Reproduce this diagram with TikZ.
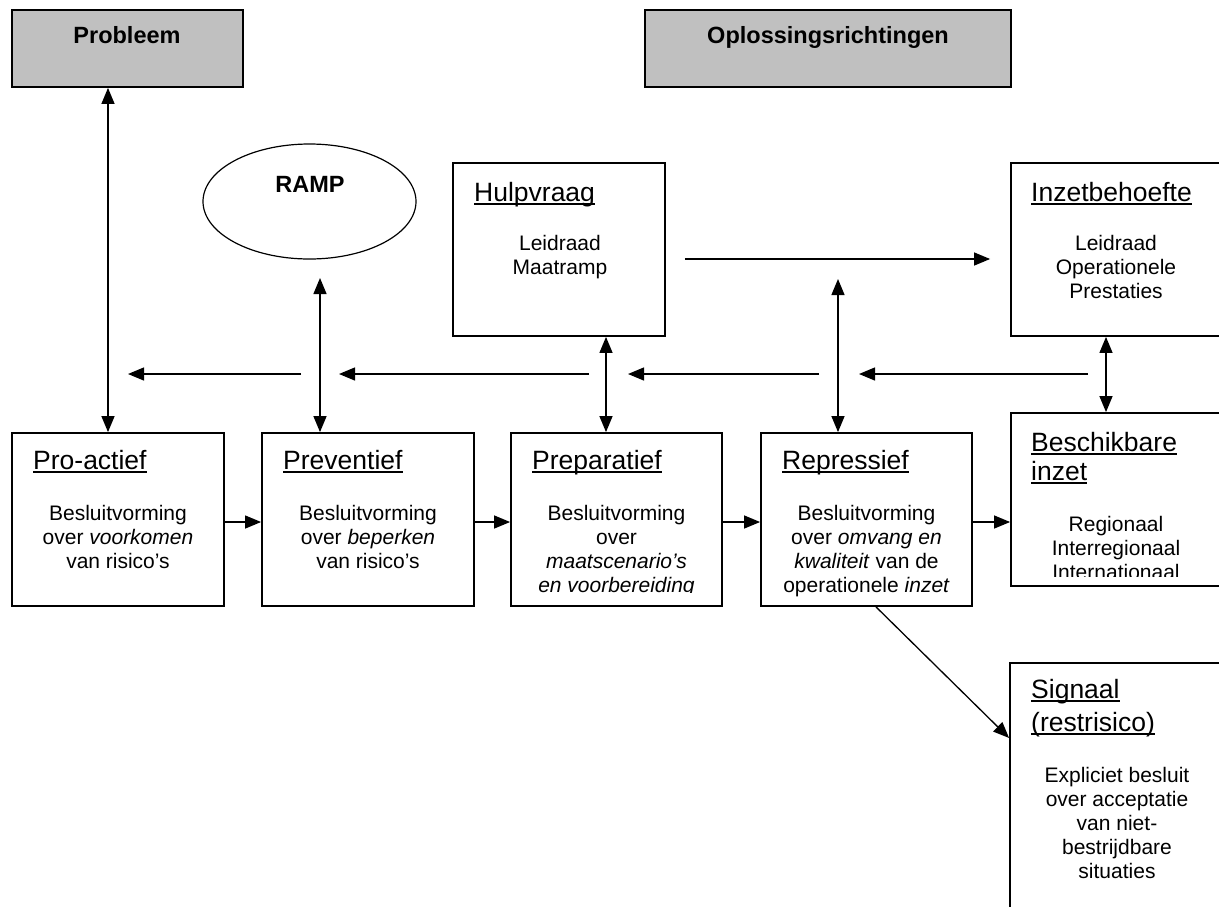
\documentclass[tikz,border=0pt]{standalone}
\usepackage{fontspec}
\setmainfont{Liberation Sans}
\usetikzlibrary{arrows.meta,shapes.geometric}
\definecolor{hdr}{RGB}{192,192,192}
\newsavebox\ulbox
\newcommand\ulx[1]{\sbox\ulbox{#1}\rlap{\rule[-3.8pt]{\wd\ulbox}{1.6pt}}\usebox\ulbox}
\begin{document}
\begin{tikzpicture}[x=1pt,y=-1pt,
  box/.style={draw, line width=1.8pt, inner sep=0pt},
  ttl/.style={anchor=base west, inner sep=0pt, font=\fontsize{26.5}{30}\selectfont},
  body/.style={align=center, inner sep=0pt, font=\fontsize{21}{24}\selectfont},
  hd/.style={anchor=base, inner sep=0pt, font=\bfseries\fontsize{23.5}{28}\selectfont},
  arr/.style={-{Triangle[length=16pt,width=13pt]}, line width=1.3pt},
  dbl/.style={{Triangle[length=16pt,width=13pt]}-{Triangle[length=16pt,width=13pt]}, line width=1.3pt}]
\useasboundingbox (0,0) rectangle (1219,906);
\clip (0,0) rectangle (1219,906);
\fill[white] (0,0) rectangle (1219,906);

% header boxes
\node[box, fill=hdr, minimum width=231pt, minimum height=77pt] (prob) at (127.5,48.5) {};
\node[hd] (probt) at (127,43.5) {Probleem};
\node[box, fill=hdr, minimum width=366pt, minimum height=77pt] (oplos) at (828,48.5) {};
\node[hd] (oplost) at (828,43.5) {Oplossingsrichtingen};

% RAMP
\node[draw, ellipse, line width=1.2pt, minimum width=213pt, minimum height=115pt, inner sep=0pt] (ramp) at (309.5,201.5) {};
\node[hd] (rampt) at (310,192) {RAMP};

% Hulpvraag
\node[box, minimum width=212pt, minimum height=173pt] (hulp) at (559,249.5) {};
\node[ttl] (hulpt) at (474,201) {\ulx{Hulpvraag}};
\node[body] (hulpb) at (560,256.7) {Leidraad\\Maatramp};

% Inzetbehoefte
\node[box, minimum width=211pt, minimum height=173pt] (inzet) at (1116.5,249.5) {};
\node[ttl] (inzett) at (1031,201) {\ulx{Inzetbehoefte}};
\node[body] (inzetb) at (1116,266.5) {Leidraad\\Operationele\\Prestaties};

% Pro-actief
\node[box, minimum width=212pt, minimum height=173pt] (pro) at (118,519.5) {};
\node[ttl] (prot) at (33,469) {\ulx{Pro-actief}};
\node[body] (prob2) at (118,536.5) {Besluitvorming\\over \textit{voorkomen}\\van risico’s};

% Preventief
\node[box, minimum width=212pt, minimum height=173pt] (prev) at (368,519.5) {};
\node[ttl] (prevt) at (283,469) {\ulx{Preventief}};
\node[body] (prevb) at (368,536.5) {Besluitvorming\\over \textit{beperken}\\van risico’s};

% Preparatief
\node[box, minimum width=211pt, minimum height=173pt] (prep) at (616.5,519.5) {};
\node[ttl] (prept) at (532,469) {\ulx{Preparatief}};
\begin{scope}
\clip (511,433) rectangle (722,592);
\node[body] (prepb) at (616.5,550.7) {Besluitvorming\\over\\\textit{maatscenario’s}\\\textit{en voorbereiding}};
\end{scope}

% Repressief
\node[box, minimum width=211pt, minimum height=173pt] (rep) at (866.5,519.5) {};
\node[ttl] (rept) at (782,469) {\ulx{Repressief}};
\node[body] (repb) at (866.5,550.7) {Besluitvorming\\over \textit{omvang en}\\\textit{kwaliteit} van de\\operationele \textit{inzet}};

% Beschikbare inzet
\node[box, minimum width=211pt, minimum height=173pt] (besch) at (1116.5,499.5) {};
\node[ttl] (bescht1) at (1031,451) {\ulx{Beschikbare}};
\node[ttl] (bescht2) at (1031,480) {\ulx{inzet}};
\begin{scope}
\clip (1011,413) rectangle (1222,576);
\node[body] (beschb) at (1116,547.5) {Regionaal\\Interregionaal\\Internationaal};
\end{scope}

% Signaal
\node[box, minimum width=214pt, minimum height=257pt] (sig) at (1117,791.5) {};
\node[ttl] (sigt1) at (1031,698) {\ulx{Signaal}};
\node[ttl] (sigt2) at (1031,731) {\ulx{(restrisico)}};
\node[body] (sigb) at (1117,822.5) {Expliciet besluit\\over acceptatie\\van niet-\\bestrijdbare\\situaties};

% vertical connectors
\coordinate (xa) at (108,0);
\draw[dbl] (prob.south -| xa) -- (pro.north -| xa);
\coordinate (ra) at (320,278);
\draw[dbl] (ra) -- (prev.north -| ra);
\coordinate (xc) at (606,0);
\draw[dbl] (hulp.south -| xc) -- (prep.north -| xc);
\coordinate (rb) at (838,279);
\draw[dbl] (rb) -- (rep.north -| rb);
\coordinate (xe) at (1106,0);
\draw[dbl] (inzet.south -| xe) -- (besch.north -| xe);

% Hulpvraag -> Inzetbehoefte
\coordinate (hy) at (0,259);
\draw[arr, shorten <=19pt, shorten >=20pt] (hulp.east |- hy) -- (inzet.west |- hy);

% feedback arrows
\coordinate (f1a) at (301,374); \coordinate (f1b) at (128,374);
\coordinate (f2a) at (589,374); \coordinate (f2b) at (339,374);
\coordinate (f3a) at (819,374); \coordinate (f3b) at (628,374);
\coordinate (f4a) at (1088,374); \coordinate (f4b) at (859,374);
\draw[arr] (f1a) -- (f1b);
\draw[arr] (f2a) -- (f2b);
\draw[arr] (f3a) -- (f3b);
\draw[arr] (f4a) -- (f4b);

% chain
\coordinate (cy) at (0,522);
\draw[arr] (pro.east |- cy) -- (prev.west |- cy);
\draw[arr] (prev.east |- cy) -- (prep.west |- cy);
\draw[arr] (prep.east |- cy) -- (rep.west |- cy);
\draw[arr] (rep.east |- cy) -- (besch.west |- cy);

% diagonal
\coordinate (dx) at (876,0);
\coordinate (dy) at (0,738);
\draw[arr] (rep.south -| dx) -- (sig.west |- dy);
\end{tikzpicture}
\end{document}
